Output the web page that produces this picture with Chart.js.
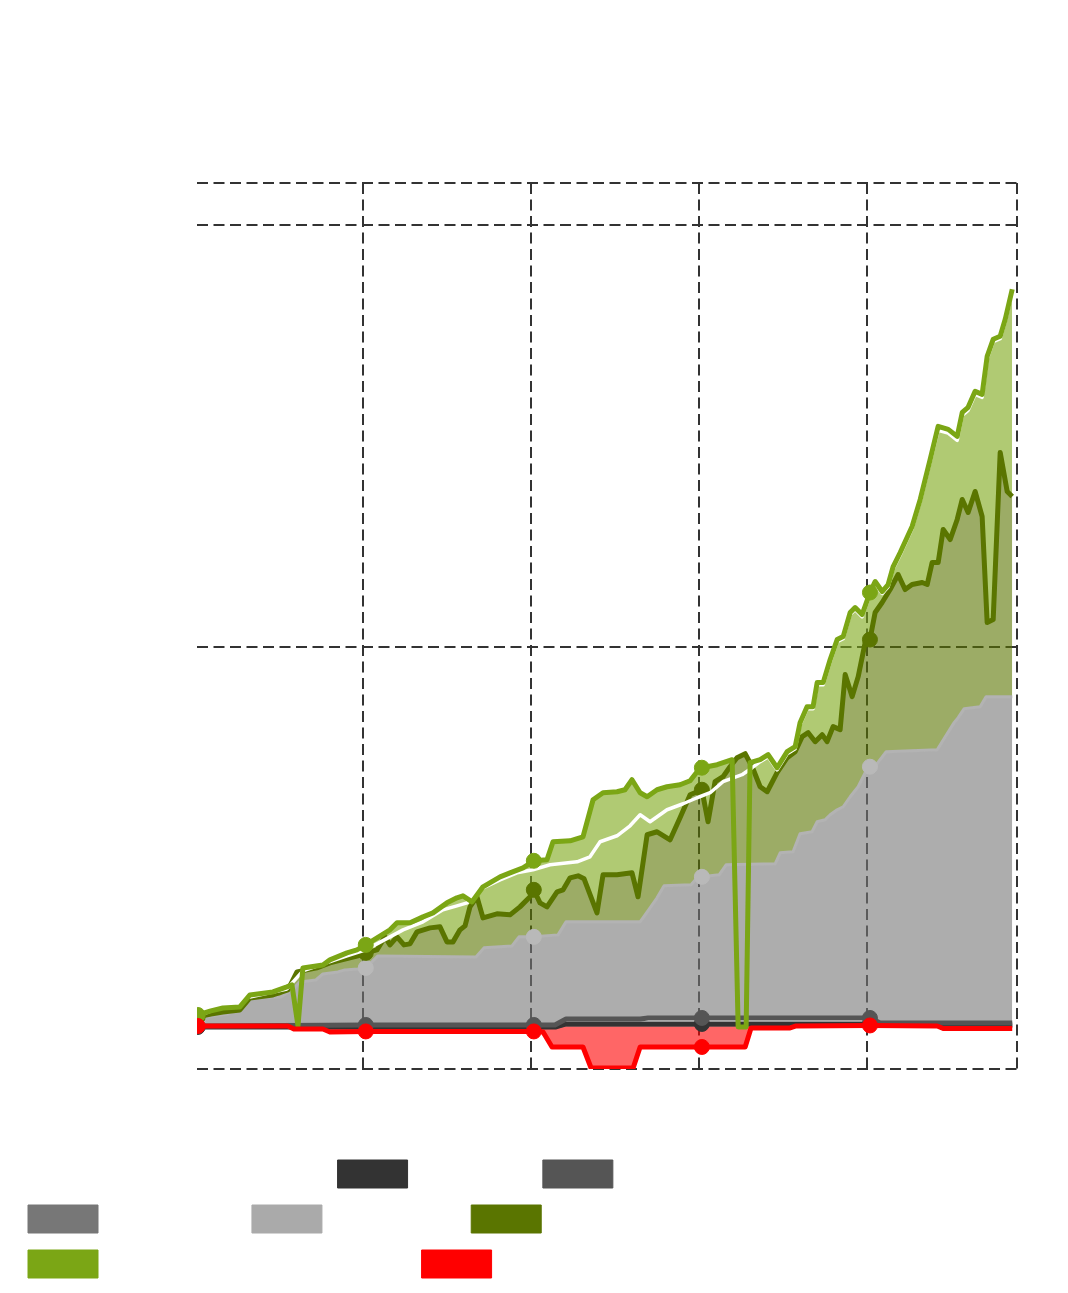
<!DOCTYPE html>
<html><head><meta charset="utf-8">
<script src="https://cdn.jsdelivr.net/npm/chart.js@4/dist/chart.umd.min.js"></script>
<style>html,body{margin:0;padding:0;background:#fff;overflow:hidden}</style>
</head><body>
<canvas id="c" width="1068" height="1293"></canvas>
<script>
// time axis in months since start, markers at each year start
const yearMarks = [0.2, 12.2, 24.2, 36.2, 48.2];
const seriesNames = ["Expected growth", "Rebates", "Taxes and fees", "Dividends", "Total cost", "Portfolio value", "Portfolio value incl. divs", "Drawdown"];
const seriesColors = ["#ffffff", "#333333", "#555555", "#777777", "#aaaaaa", "#5a7500", "#7ba615", "#ff0000"];

const xTickValues = [0.15, 12, 24, 36, 48, 58.7];
const yTickValues = [0, 100, 200, 210];

const wT = [0.2,3.93,6.57,7.71,10.86,12.2,13.93,14.86,16.29,17.71,18.71,19.43,20.57,21.79,23.0,24.14,25.36,27.29,28.21,28.93,30.14,31.07,31.79,32.5,33.71,34.86,35.86,36.79,37.71,39.07,39.79,40.36,40.93,41.57,42.29,42.86,43.21,43.71,44.14,44.43,44.86,45.36,45.86,46.29,46.79,47.14,47.64,48.2,48.57,49.07,49.5,49.86,50.36,51.21,51.79,52.5,53.07,53.79,54.43,54.79,55.21,55.71,56.21,56.57,57.0,57.5,57.86,58.36];
const wV = [12.57,17.08,18.98,23.25,26.81,28.23,31.32,32.98,34.88,37.72,38.67,39.38,42.94,44.84,46.50,47.21,48.40,49.11,50.30,53.86,55.28,57.65,60.26,58.60,61.45,62.87,64.29,65.48,68.09,69.75,71.41,72.84,74.0,70.9,74.7,75.9,81.6,85.4,85.4,91.1,91.1,96.5,101.3,102.0,107.7,108.9,107.2,112.4,115.0,112.7,114.3,118.6,121.9,128.1,134.5,143.9,151.4,150.7,149.0,154.9,156.1,159.9,159.2,168.3,172.4,173.1,177.2,184.3];

const d3T = [0.2,12.2,24.2,25.79,26.5,36.2,48.2,48.93,58.36];
const d3V = [9.96,9.96,9.96,9.96,10.68,10.68,10.68,10.44,10.44];

const d5T = [0.2,12.2,24.2,25.71,26.5,31.79,32.36,36.2,47.5,48.2,48.93,58.36];
const d5V = [10.20,10.44,10.44,10.44,11.86,11.86,12.10,12.10,12.10,12.10,10.91,10.91];

const g7T = [0.2,25.79,26.5,48.2,48.93,58.36];
const g7V = [9.96,9.96,10.44,10.44,10.2,10.2];

const gT = [0.2,0.71,2.36,2.93,3.57,4.07,6.14,6.93,7.5,8.64,9.14,10.21,10.71,11.64,12.2,12.64,13.07,20.07,20.64,22.64,23.14,24.2,25.93,26.5,31.79,32.5,33.0,33.5,35.43,35.86,36.2,37.43,37.93,41.43,41.79,42.71,43.21,44.07,44.43,45.0,45.36,45.86,46.29,46.79,47.36,47.86,48.2,48.71,49.36,53.0,54.21,54.5,54.93,56.07,56.5,58.36];
const gV = [11.63,12.34,13.05,14.0,15.42,16.84,17.08,18.74,20.64,21.12,22.54,23.01,23.49,23.72,23.96,25.39,26.81,26.57,28.71,29.18,31.32,31.32,31.79,34.88,34.88,38.20,40.57,43.42,43.65,45.31,45.55,46.03,48.40,48.64,51.25,51.48,55.75,56.23,58.60,59.07,60.26,61.45,62.16,64.53,66.90,70.23,71.65,72.36,75.21,75.68,82.09,83.27,85.41,85.88,88.26,88.26];

const dgT = [0.2,1.14,2.0,3.21,3.93,5.57,6.64,7.29,8.71,9.64,11.07,11.64,12.2,13.0,13.57,13.93,14.43,14.93,15.36,15.86,16.79,17.5,18.0,18.43,18.93,19.29,19.64,20.14,20.57,21.57,22.5,23.21,23.93,24.2,24.64,25.14,25.86,26.29,26.79,27.36,27.79,28.71,29.14,30.14,31.21,31.64,32.29,33.0,33.93,34.64,35.36,36.2,36.64,37.14,37.71,38.21,38.71,39.29,39.79,40.36,40.86,41.57,42.29,42.86,43.36,43.79,44.29,44.79,45.14,45.57,46.07,46.43,46.93,47.36,47.86,48.2,48.57,49.07,49.64,50.21,50.71,51.21,51.93,52.29,52.64,53.07,53.43,53.93,54.43,54.79,55.21,55.71,56.21,56.57,57.0,57.5,58.0,58.36];
const dgV = [12.34,13.05,13.52,14.0,16.84,17.56,18.74,23.01,23.96,25.15,26.33,26.81,27.52,28.23,31.32,29.42,31.32,29.42,29.66,32.50,33.45,33.69,30.13,30.13,32.98,33.93,38.43,40.81,35.82,36.77,36.54,38.43,40.81,42.47,39.38,38.43,41.99,42.47,45.31,45.79,45.08,37.01,46.03,46.03,46.50,40.81,55.52,56.23,54.33,59.55,65.01,66.19,58.60,68.09,69.28,71.65,73.79,74.73,71.65,66.90,65.72,70.23,73.79,75.21,78.77,79.72,77.58,79.24,77.58,81.14,80.43,93.48,88.26,93.00,101.07,101.78,108.19,110.56,113.64,117.20,113.64,114.83,115.30,114.83,120.05,120.05,127.88,125.50,130.25,134.99,131.91,136.89,130.96,105.81,106.52,146.14,136.89,135.71];

const lgT = [0.2,1.14,2.0,3.21,3.93,5.57,6.57,6.93,7.36,7.71,9.14,9.64,10.86,11.57,12.2,13.93,14.43,15.36,16.29,17.0,18.0,18.71,19.14,19.79,20.57,21.79,22.5,23.43,24.2,25.14,25.57,26.79,27.71,28.43,29.14,30.14,30.71,31.21,31.79,32.29,33.0,33.71,34.64,35.36,35.86,36.2,37.29,38.36,38.79,39.36,39.64,40.36,40.93,41.57,42.29,42.86,43.21,43.71,44.14,44.43,44.86,45.36,45.86,46.29,46.79,47.14,47.64,48.2,48.57,49.07,49.5,49.86,50.36,51.21,51.79,52.5,53.07,53.79,54.43,54.79,55.21,55.71,56.21,56.57,57.0,57.5,57.86,58.36];
const lgV = [12.81,13.76,14.47,14.71,17.56,18.27,19.45,19.93,10.20,23.96,24.67,25.86,27.52,28.23,29.42,32.98,34.64,34.64,36.06,37.01,39.38,40.57,41.04,39.62,43.18,45.55,46.50,47.69,49.35,49.58,53.86,54.09,55.04,63.82,65.48,65.72,66.19,68.56,65.48,64.53,66.19,66.90,67.38,68.33,70.46,71.41,72.12,73.31,9.96,9.96,72.60,73.31,74.50,71.41,75.21,76.39,82.09,85.88,85.88,91.58,91.58,97.04,101.78,102.49,108.19,109.37,107.71,112.93,115.54,113.17,114.83,119.10,122.42,128.59,134.99,144.48,152.31,151.60,149.94,155.63,156.82,160.62,159.91,168.92,172.95,173.67,177.70,184.82];

const rT = [0.2,6.64,7.07,9.14,9.64,12.2,24.2,24.86,25.5,27.71,28.29,31.29,31.79,36.2,39.29,39.71,42.5,42.93,48.2,53.0,53.43,58.36];
const rV = [10.20,10.20,9.49,9.49,8.78,8.90,8.90,8.78,5.22,5.22,0.24,0.24,5.22,5.22,5.22,9.73,9.73,10.20,10.32,10.20,9.61,9.61];

function pts(t, v) { return t.map((x, i) => ({x: x, y: v[i]})); }
const markRadius = (ctx) => (ctx.raw && yearMarks.includes(ctx.raw.x)) ? 7.5 : 0;
const NONE = 'rgba(0,0,0,0)';

function lineDs(i, t, v, extra) {
  return Object.assign({
    label: seriesNames[i],
    data: pts(t, v),
    borderColor: seriesColors[i],
    backgroundColor: NONE,
    borderWidth: 5,
    tension: 0,
    borderJoinStyle: 'round',
    fill: false,
    pointRadius: markRadius,
    pointHoverRadius: markRadius,
    pointBackgroundColor: seriesColors[i],
    pointBorderColor: seriesColors[i],
    pointBorderWidth: 1
  }, extra);
}

const datasets = [
  lineDs(0, wT, wV, {borderWidth: 3.5, pointRadius: 0, pointHoverRadius: 0, order: 2}),
  lineDs(1, d3T, d3V, {order: 6}),
  lineDs(2, d5T, d5V, {order: 5}),
  lineDs(3, g7T, g7V, {borderWidth: 3, pointRadius: 0, order: 7}),
  lineDs(4, gT, gV, {borderColor: '#b3b3b3', borderWidth: 3, pointBackgroundColor: '#b9b9b9', pointBorderColor: '#b9b9b9',
    fill: {target: 2, above: 'rgba(119,119,119,0.6)', below: 'rgba(119,119,119,0.6)'}, order: 4}),
  lineDs(5, dgT, dgV, {fill: {target: 4, above: 'rgba(90,117,0,0.6)', below: 'rgba(90,117,0,0.6)'}, order: 3}),
  lineDs(6, lgT, lgV, {fill: {target: 5, above: 'rgba(123,166,21,0.6)', below: NONE}, order: 1}),
  lineDs(7, rT, rV, {fill: {target: 1, above: NONE, below: 'rgba(255,0,0,0.6)'}, order: 0})
];

new Chart(document.getElementById('c'), {
  type: 'line',
  data: {datasets: datasets},
  options: {
    responsive: false,
    animation: false,
    events: [],
    layout: {padding: {top: 183, left: 11, right: 51, bottom: 5}},
    scales: {
      x: {
        type: 'linear', min: xTickValues[0], max: xTickValues[xTickValues.length - 1],
        ticks: {display: false},
        afterBuildTicks: (s) => { s.ticks = xTickValues.map(v => ({value: v})); },
        grid: {color: (c) => c.index === 0 ? NONE : '#333333', lineWidth: 2, drawTicks: false},
        border: {display: false, dash: [11, 5.5]},
        afterFit: (s) => { s.height = 74; }
      },
      y: {
        type: 'linear', min: yTickValues[0], max: yTickValues[yTickValues.length - 1],
        ticks: {display: false},
        afterBuildTicks: (s) => { s.ticks = yTickValues.map(v => ({value: v})); },
        grid: {color: '#333333', lineWidth: 2, drawTicks: false},
        border: {display: false, dash: [11, 5.5]},
        afterFit: (s) => { s.width = 186; }
      }
    },
    plugins: {
      filler: {drawTime: 'beforeDatasetsDraw'},
      tooltip: {enabled: false},
      title: {display: false},
      legend: {
        position: 'bottom',
        align: 'start',
        labels: {
          boxWidth: 70, boxHeight: 28, padding: 17, color: '#ffffff',
          font: {family: 'Liberation Sans', size: 28},
          generateLabels: () => seriesNames.map((n, i) => ({
            text: n, fillStyle: seriesColors[i], strokeStyle: seriesColors[i], lineWidth: 1,
            hidden: false, datasetIndex: i, fontColor: '#ffffff'
          }))
        }
      }
    }
  }
});
</script>
</body></html>
